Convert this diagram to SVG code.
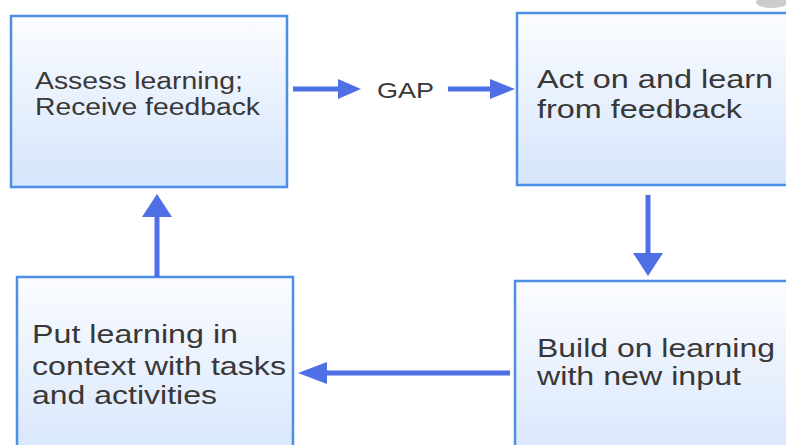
<svg xmlns="http://www.w3.org/2000/svg" width="786" height="445" viewBox="0 0 786 445">
  <defs>
    <linearGradient id="boxFill" x1="0" y1="0" x2="0" y2="1">
      <stop offset="0" stop-color="#fbfcff"/>
      <stop offset="1" stop-color="#d5e5fb"/>
    </linearGradient>
    <style>
      .box { fill: url(#boxFill); stroke: #4d8fe6; stroke-width: 2.5; }
      .lbl { font-family: "Liberation Sans", Arial, sans-serif; fill: #383838; }
      .con { stroke: #4e6fe6; stroke-width: 5; fill: none; }
      .head { fill: #4e6fe6; }
    </style>
  </defs>
  <rect x="0" y="0" width="786" height="445" fill="#ffffff"/>
  <ellipse cx="772" cy="2" rx="16" ry="6" fill="#9a9a9a" opacity="0.5"/>

  <g id="node-assess">
    <rect class="box" x="11" y="16" width="276" height="171"/>
    <text class="lbl" font-size="23" x="35" y="89" textLength="208" lengthAdjust="spacingAndGlyphs">Assess learning;</text>
    <text class="lbl" font-size="23" x="35" y="115" textLength="225" lengthAdjust="spacingAndGlyphs">Receive feedback</text>
  </g>

  <g id="node-act">
    <rect class="box" x="517" y="13" width="290" height="172"/>
    <text class="lbl" font-size="26" x="537" y="88" textLength="236" lengthAdjust="spacingAndGlyphs">Act on and learn</text>
    <text class="lbl" font-size="26" x="537" y="118" textLength="205" lengthAdjust="spacingAndGlyphs">from feedback</text>
  </g>

  <g id="node-build">
    <rect class="box" x="515" y="281" width="290" height="190"/>
    <text class="lbl" font-size="25" x="537" y="357" textLength="238" lengthAdjust="spacingAndGlyphs">Build on learning</text>
    <text class="lbl" font-size="25" x="537" y="385" textLength="204" lengthAdjust="spacingAndGlyphs">with new input</text>
  </g>

  <g id="node-context">
    <rect class="box" x="17" y="277" width="276" height="190"/>
    <text class="lbl" font-size="26" x="32" y="343" textLength="206" lengthAdjust="spacingAndGlyphs">Put learning in</text>
    <text class="lbl" font-size="26" x="32" y="375" textLength="254" lengthAdjust="spacingAndGlyphs">context with tasks</text>
    <text class="lbl" font-size="26" x="32" y="404" textLength="185" lengthAdjust="spacingAndGlyphs">and activities</text>
  </g>

  <g id="gap-label">
    <text class="lbl" font-size="22" x="377" y="98" textLength="57" lengthAdjust="spacingAndGlyphs">GAP</text>
  </g>

  <g id="connectors">
    <line class="con" x1="293" y1="89" x2="340" y2="89"/>
    <polygon class="head" points="338,79 361,89 338,99"/>
    <line class="con" x1="448" y1="89" x2="492" y2="89"/>
    <polygon class="head" points="490,79 515,89 490,99"/>
    <line class="con" x1="648" y1="195" x2="648" y2="255"/>
    <polygon class="head" points="633,253 663,253 648,276"/>
    <line class="con" x1="510" y1="373" x2="325" y2="373"/>
    <polygon class="head" points="327,362 327,384 298,373"/>
    <line class="con" x1="157" y1="277" x2="157" y2="215"/>
    <polygon class="head" points="142,217 172,217 157,194"/>
  </g>
</svg>
